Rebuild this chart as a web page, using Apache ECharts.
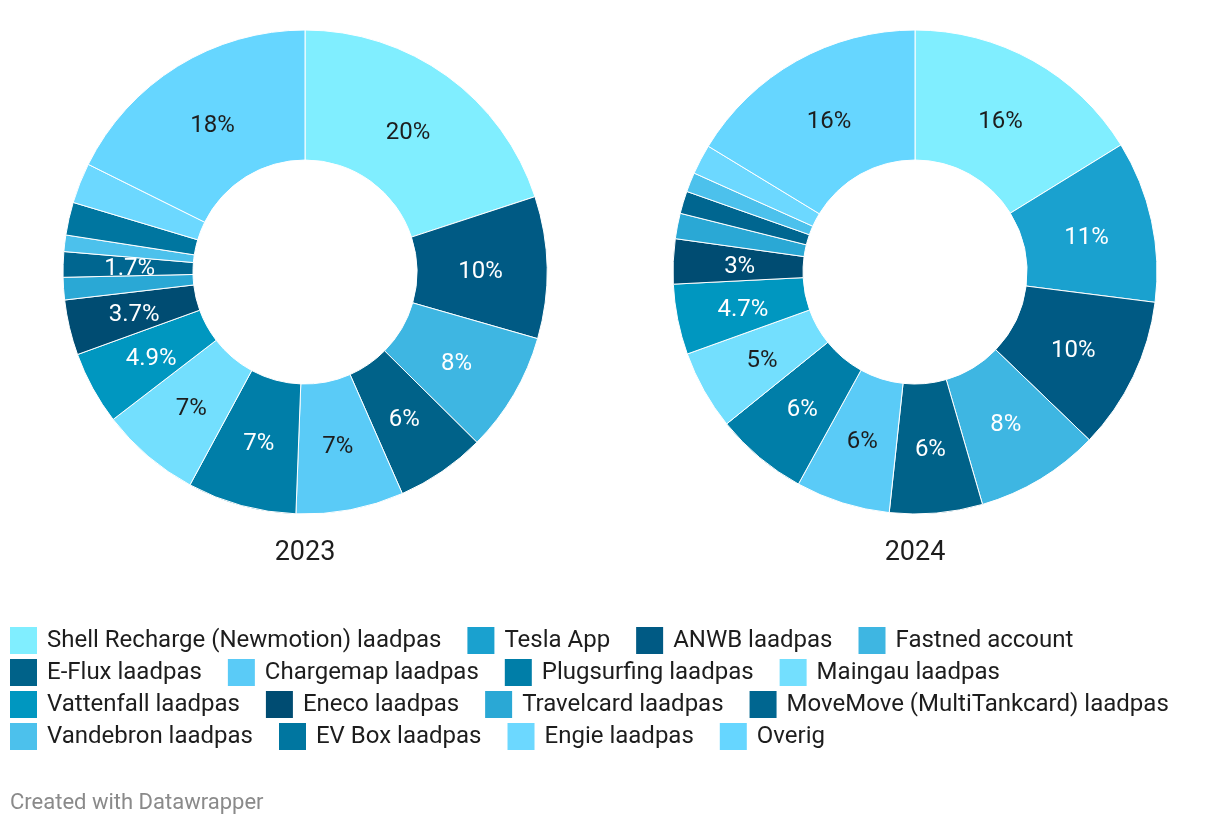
<!DOCTYPE html>
<html>
<head>
<meta charset="utf-8">
<script src="https://cdn.jsdelivr.net/npm/echarts@6/dist/echarts.min.js"></script>
<style>
  html, body { margin: 0; padding: 0; background: #fff; }
  #chart { width: 1220px; height: 826px; }
</style>
</head>
<body>
<div id="chart"></div>
<script>
// ---- data ----
const categories = [
  'Shell Recharge (Newmotion) laadpas', 'Tesla App', 'ANWB laadpas', 'Fastned account',
  'E-Flux laadpas', 'Chargemap laadpas', 'Plugsurfing laadpas', 'Maingau laadpas',
  'Vattenfall laadpas', 'Eneco laadpas', 'Travelcard laadpas', 'MoveMove (MultiTankcard) laadpas',
  'Vandebron laadpas', 'EV Box laadpas', 'Engie laadpas', 'Overig'
];
const years = ['2023', '2024'];
const values2023 = [20, null, 9.5, 8, 6, 7.2, 7.3, 6.7, 4.9, 3.7, 1.5, 1.7, 1.1, 2.2, 2.7, 17.7];
const values2024 = [16.2, 10.8, 10.2, 8.3, 6.2, 6.3, 6.2, 5.3, 4.7, 3, 1.7, 1.5, 1.3, null, 2, 16.3];
const labeled2023 = [true, false, true, true, true, true, true, true, true, true, false, true, false, false, false, true];
const labeled2024 = [true, true, true, true, true, true, true, true, true, true, false, false, false, false, false, true];
const footerText = 'Created with Datawrapper';

// ---- style ----
const colors = [
  '#80eeff', '#1aa1cf', '#005a84', '#3eb6e2',
  '#006289', '#5acbf7', '#007ea8', '#73dffe',
  '#0097c0', '#004c72', '#2aa8d5', '#006690',
  '#4cc1ec', '#0076a0', '#6cd8ff', '#66d6ff'
];
const FONT = 'Roboto';
const CY = 272;
function textColorFor(hex) {
  const r = parseInt(hex.slice(1, 3), 16), g = parseInt(hex.slice(3, 5), 16), b = parseInt(hex.slice(5, 7), 16);
  return (0.299 * r + 0.587 * g + 0.114 * b) > 160 ? '#1d1d1d' : '#ffffff';
}
function fmt(v) {
  return (v >= 5 ? Math.round(v) : parseFloat(v.toFixed(1))) + '%';
}
function buildData(values, labeled) {
  const out = [];
  values.forEach((v, i) => {
    if (v === null) return;
    out.push({
      name: categories[i],
      value: v,
      itemStyle: { color: colors[i] },
      label: { show: labeled[i], color: textColorFor(colors[i]) }
    });
  });
  return out;
}
function pieSeries(values, labeled, cx) {
  return {
    type: 'pie',
    center: [cx, CY],
    radius: [112, 242],
    startAngle: 90,
    clockwise: true,
    avoidLabelOverlap: false,
    silent: true,
    animation: false,
    itemStyle: { borderColor: '#ffffff', borderWidth: 1 },
    label: {
      position: 'inside',
      fontFamily: FONT,
      fontSize: 24,
      formatter: p => fmt(p.value)
    },
    labelLayout: function (params) {
      const r = params.labelRect;
      const lx = r.x + r.width / 2, ly = r.y + r.height / 2;
      const k = 0.975;
      return { x: cx + (lx - cx) * k, y: CY + (ly - CY) * k + 3, align: 'center', verticalAlign: 'middle' };
    },
    labelLine: { show: false },
    emphasis: { disabled: true },
    data: buildData(values, labeled)
  };
}
function legendRow(rowIdx) {
  const idx = [0, 1, 2, 3].map(k => rowIdx * 4 + k);
  return {
    left: 10,
    top: 627 + rowIdx * 32,
    padding: 0,
    orient: 'horizontal',
    icon: 'rect',
    itemWidth: 27,
    itemHeight: 27,
    itemGap: 26,
    selectedMode: false,
    itemStyle: { borderWidth: 0 },
    textStyle: { fontFamily: FONT, fontSize: 24, color: '#1d1d1d', padding: [3, 0, 0, 5] },
    data: idx.map(i => ({ name: categories[i], itemStyle: { color: colors[i], borderWidth: 0 } }))
  };
}

const chart = echarts.init(document.getElementById('chart'), null, { renderer: 'canvas' });
chart.setOption({
  backgroundColor: '#ffffff',
  animation: false,
  graphic: [
    { type: 'text', x: 305, y: 553, style: { text: years[0], x: 0, y: 0, align: 'center', verticalAlign: 'middle',
      font: '27px ' + FONT, fill: '#1d1d1d' } },
    { type: 'text', x: 915, y: 553, style: { text: years[1], x: 0, y: 0, align: 'center', verticalAlign: 'middle',
      font: '27px ' + FONT, fill: '#1d1d1d' } },
    { type: 'text', x: 10, y: 803, style: { text: footerText, x: 0, y: 0, align: 'left', verticalAlign: 'middle',
      font: '22px ' + FONT, fill: '#8a8a8a' } }
  ],
  legend: [legendRow(0), legendRow(1), legendRow(2), legendRow(3)],
  series: [
    pieSeries(values2023, labeled2023, 305),
    pieSeries(values2024, labeled2024, 915)
  ]
});
</script>
</body>
</html>
